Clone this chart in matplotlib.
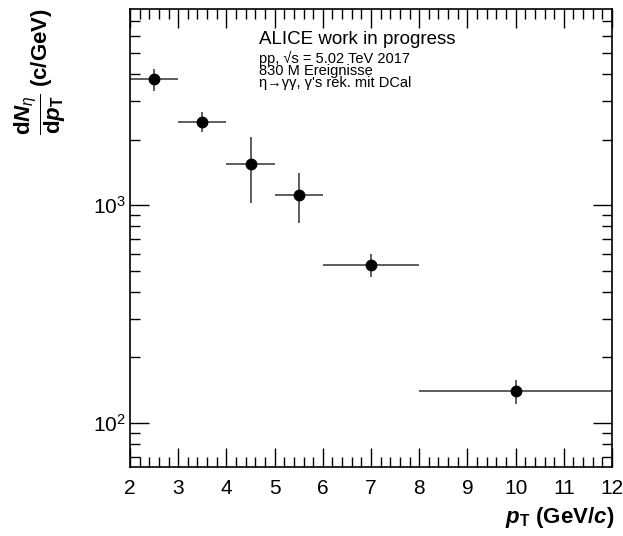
import numpy as np
import matplotlib.pyplot as plt
from matplotlib.ticker import MultipleLocator, LogLocator, NullFormatter, FixedLocator

plt.rcParams['font.family'] = ['Liberation Sans', 'DejaVu Sans']
plt.rcParams['mathtext.fontset'] = 'custom'
plt.rcParams['mathtext.rm'] = 'Liberation Sans'
plt.rcParams['mathtext.it'] = 'Liberation Sans:italic'
plt.rcParams['mathtext.bf'] = 'Liberation Sans:bold'
plt.rcParams['mathtext.bfit'] = 'Liberation Sans:bold:italic'

# eta spectrum, pp 5.02 TeV
bin_lo = np.array([2, 3, 4, 5, 6, 8])
bin_hi = np.array([3, 4, 5, 6, 8, 12])
yields = np.array([3790, 2420, 1550, 1115, 532, 140])
err_up = np.array([430, 265, 515, 290, 64, 17])
err_dn = np.array([430, 250, 525, 285, 65, 18])

info_lines = ['pp, √s = 5.02 TeV 2017', '830 M Ereignisse', "η→γγ, γ's rek. mit DCal"]

pt = (bin_lo + bin_hi) / 2
xerr = (bin_hi - bin_lo) / 2

fig = plt.figure(figsize=(6.23, 5.36), dpi=100)
ax = fig.add_axes([130/623, 69/536, 482/623, 458/536])

ax.errorbar(pt, yields, xerr=xerr, yerr=[err_dn, err_up], fmt='o', color='black',
            ecolor='#333333', elinewidth=1.1, markersize=7.5, capsize=0)

ax.set_yscale('log')
ax.set_xlim(2, 12)
ax.set_ylim(62.8, 7980)

ax.xaxis.set_major_locator(MultipleLocator(1))
ax.xaxis.set_minor_locator(MultipleLocator(0.2))
ax.yaxis.set_major_locator(FixedLocator([100, 1000]))
ax.yaxis.set_minor_locator(LogLocator(base=10, subs=np.arange(2, 10)))
ax.yaxis.set_minor_formatter(NullFormatter())
ax.set_yticklabels([r'$10^{2}$', r'$10^{3}$'])

ax.tick_params(which='both', direction='in', top=True, right=True, width=1.0, labelsize=15)
ax.tick_params(which='major', length=14)
ax.tick_params(which='minor', length=7)
ax.tick_params(axis='x', pad=9)
ax.tick_params(axis='y', pad=3)
for s in ax.spines.values():
    s.set_linewidth(1.2)

tx = (259 - 130) / 482
ax.text(tx, 0.934, 'ALICE work in progress', transform=ax.transAxes, fontsize=13.5, va='center')
ax.text(tx, 0.866, '\n'.join(info_lines), transform=ax.transAxes, fontsize=10.5,
        va='center', linespacing=0.82)

fig.text(614/623, 1 - 517/536, r'$\mathbfit{p}_{\mathbf{T}}$ (GeV/$\mathbfit{c}$)', ha='right', va='center',
         fontsize=16, fontweight='bold')
fig.text(40/623, 1 - 8/536, r'$\dfrac{\mathbf{d}\mathbfit{N}_{\eta}}{\mathbf{d}\mathbfit{p}_{\mathbf{T}}}$ (c/GeV)',
         rotation=90, ha='center', va='top', fontsize=16, fontweight='bold')

fig.savefig('out.png', dpi=100)
